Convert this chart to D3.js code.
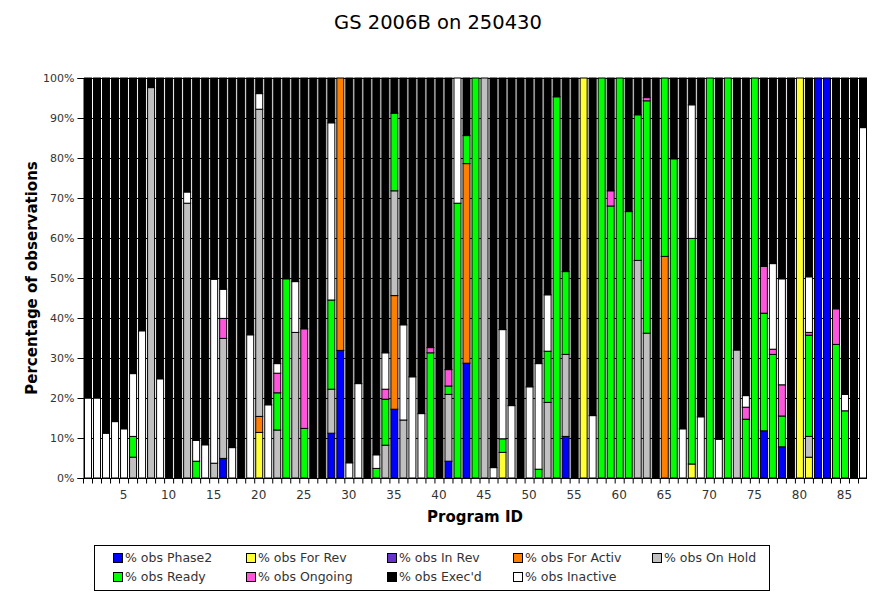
<!DOCTYPE html>
<html>
<head>
<meta charset="utf-8">
<title>GS 2006B on 250430</title>
<style>
  body { margin: 0; background: #fff; }
  text { font-family: "DejaVu Sans", sans-serif; }
</style>
</head>
<body>
<div id="chart"></div>
<script src="https://d3js.org/d3.v7.min.js"></script>
<script>
// program ids 1..87
const programs = d3.range(1, 88);

// percentages per program (index 0 = program 1)
const phase2 = [0,0,0,0,0,0,0,0,0,0, 0,0,0,0,0,4.9,0,0,0,0, 0,0,0,0,0,0,0,11.2,31.9,0,
  0,0,0,0,17.2,0,0,0,0,0, 4.2,0,28.7,0,0,0,0,0,0,0, 0,0,0,10.4,0,0,0,0,0,0,
  0,0,0,0,0,0,0,0,0,0, 0,0,0,0,0,11.8,0,7.8,0,0, 0,100,100,0,0,0,0];
const forRev = [0,0,0,0,0,0,0,0,0,0, 0,0,0,0,0,0,0,0,0,11.4, 0,0,0,0,0,0,0,0,0,0,
  0,0,0,0,0,0,0,0,0,0, 0,0,0,0,0,0,6.4,0,0,0, 0,0,0,0,0,100,0,0,0,0,
  0,0,0,0,0,0,0,3.5,0,0, 0,0,0,0,0,0,0,0,0,100, 5.2,0,0,0,0,0,0];
const inRev = programs.map(() => 0);
const forActiv = [0,0,0,0,0,0,0,0,0,0, 0,0,0,0,0,0,0,0,0,4, 0,0,0,0,0,0,0,0,68.1,0,
  0,0,0,0,28.4,0,0,0,0,0, 0,0,49.9,0,0,0,0,0,0,0, 0,0,0,0,0,0,0,0,0,0,
  0,0,0,0,55.4,0,0,0,0,0, 0,0,0,0,0,0,0,0,0,0, 0,0,0,0,0,0,0];
const onHold = [0,0,0,0,0,5.2,0,97.6,0,0, 0,68.7,0,0,3.7,30,0,0,0,76.8, 0,12,0,36.4,0,0,0,11,0,0,
  0,0,0,8.2,26.2,14.5,0,0,0,0, 16.7,0,0,0,100,0,0,0,0,0, 0,18.9,0,20.5,0,0,0,0,0,0,
  0,54.4,36.2,0,0,0,0,0,0,0, 0,0,32,0,0,0,0,0,0,0, 5.2,0,0,0,0,0,0];
const ready = [0,0,0,0,0,5.2,0,0,0,0, 0,0,4.2,0,0,0,0,0,0,0, 0,9.3,49.8,0,12.4,0,0,22.3,0,0,
  0,0,2.4,11.5,19.4,0,0,0,31.3,0, 2.1,68.7,7,100,0,0,3.4,0,0,0, 2.2,12.8,95.3,20.7,0,0,0,100,68,100,
  66.6,36.4,58.1,0,44.6,79.8,0,56.4,0,100, 0,100,0,14.7,100,29.4,30.9,7.7,0,0, 25.3,0,0,33.4,16.8,0,0];
const ongoing = [0,0,0,0,0,0,0,0,0,0, 0,0,0,0,0,5,0,0,0,0, 0,4.9,0,0,24.9,0,0,0,0,0,
  0,0,0,2.5,0,0,0,0,1.3,0, 4.1,0,0,0,0,0,0,0,0,0, 0,0,0,0,0,0,0,0,3.8,0,
  0,0,0.8,0,0,0,0,0,0,0, 0,0,0,3,0,11.7,1.3,7.8,0,0, 0.7,0,0,8.9,0,0,0];
const inactive = [20,20,11.2,14.1,12.3,15.7,36.8,0,24.8,0, 0,2.8,5.2,8.3,46,7.3,7.6,0,35.8,3.9, 18.3,2.4,0,12.7,0,0,0,44.3,0,3.8,
  23.6,0,3.4,9.1,0,23.8,25.3,16.1,0,0, 0,31.3,0,0,0,2.6,27.3,18.1,0,22.8, 26.4,14.1,0,0,0,0,15.6,0,0,0,
  0,0,0,0,0,0,12.3,33.4,15.3,0, 9.7,0,0,2.9,0,0,21.4,26.5,0,0, 13.9,0,0,0,4.1,0,87.6];
const execd = [80,80,88.8,85.9,87.7,73.9,63.2,2.4,75.2,100, 100,28.5,90.6,91.7,50.3,52.8,92.4,100,64.2,3.9, 81.7,71.4,50.2,50.9,62.7,100,100,11.2,0,96.2,
  76.4,100,94.2,68.7,8.8,61.7,74.7,83.9,67.4,100, 72.9,0,14.4,0,0,97.4,62.9,81.9,100,77.2, 71.4,54.2,4.7,48.4,100,0,84.4,0,28.2,0,
  33.4,9.2,4.9,100,0,20.2,87.7,6.7,84.7,0, 90.3,0,68,79.4,0,47.1,46.4,50.2,100,0, 49.7,0,0,57.7,79.1,100,12.4];

const seriesNames = ["% obs Phase2", "% obs For Rev", "% obs In Rev", "% obs For Activ", "% obs On Hold",
  "% obs Ready", "% obs Ongoing", "% obs Exec'd", "% obs Inactive"];
const seriesValues = [phase2, forRev, inRev, forActiv, onHold, ready, ongoing, execd, inactive];
const colors = ["#0000ff", "#ffff33", "#6633cc", "#ff8000", "#c0c0c0", "#00ff00", "#ff55dd", "#000000", "#ffffff"];
// inactive is stacked under exec'd
const stackOrder = [0, 1, 2, 3, 4, 5, 6, 8, 7];
const yTicks = d3.range(0, 101, 10);

const width = 876, height = 600;
const margin = { top: 78, right: 9, bottom: 122, left: 83 };

const svg = d3.select('#chart').append('svg')
  .attr('width', width).attr('height', height);

const x = d3.scaleBand().domain(programs).range([margin.left, width - margin.right]).padding(0);
const y = d3.scaleLinear().domain([0, 100]).range([height - margin.bottom, margin.top]);

// grid
svg.append('g').selectAll('line').data(yTicks.slice(1)).join('line')
  .attr('x1', margin.left).attr('x2', width - margin.right)
  .attr('y1', d => y(d) + 0.5).attr('y2', d => y(d) + 0.5)
  .attr('stroke', '#000').attr('stroke-width', 1);

const table = programs.map((p, i) => {
  const row = { id: p };
  stackOrder.forEach(s => { row[s] = seriesValues[s][i]; });
  return row;
});
const stacked = d3.stack().keys(stackOrder)(table);

const bw = x.bandwidth();
svg.append('g').selectAll('g').data(stacked).join('g')
  .attr('fill', d => colors[d.key])
  .selectAll('rect').data(d => d.filter(s => s[1] - s[0] > 0)).join('rect')
  .attr('x', d => x(d.data.id) + 1.5)
  .attr('width', bw - 2)
  .attr('y', d => y(d[1]))
  .attr('height', d => y(d[0]) - y(d[1]))
  .attr('stroke', '#000')
  .attr('stroke-width', 1);

// y axis
const yAxis = d3.axisLeft(y).tickValues(yTicks).tickFormat(d => d + '%').tickSize(6);
const gy = svg.append('g').attr('transform', `translate(${margin.left + 0.5},0)`).call(yAxis);
gy.selectAll('text').attr('font-size', 11).attr('font-family', '"DejaVu Sans", sans-serif').attr('fill', '#333');
gy.selectAll('line, path').attr('stroke', '#000');

// x axis
const gx = svg.append('g').attr('transform', `translate(0,${y(0) + 0.5})`);
gx.append('line').attr('x1', margin.left).attr('x2', width - margin.right).attr('stroke', '#000');
gx.selectAll('.tk').data(programs).join('line').attr('class', 'tk')
  .attr('x1', d => x(d) + 0.5).attr('x2', d => x(d) + 0.5)
  .attr('y1', 0).attr('y2', 5).attr('stroke', '#000');
gx.selectAll('.lb').data(programs.filter(d => d % 5 === 0)).join('text').attr('class', 'lb')
  .attr('x', d => x(d) + bw / 2).attr('y', 20)
  .attr('text-anchor', 'middle').attr('font-size', 12).attr('fill', '#333')
  .text(d => d);

// titles
svg.append('text').attr('x', width / 2).attr('y', 29).attr('text-anchor', 'middle')
  .attr('font-size', 19.5).text('GS 2006B on 250430');
svg.append('text').attr('x', (margin.left + width - margin.right) / 2).attr('y', 522)
  .attr('text-anchor', 'middle').attr('font-size', 15).attr('font-weight', 'bold')
  .text('Program ID');
svg.append('text').attr('transform', `translate(37,${(y(0) + y(100)) / 2}) rotate(-90)`)
  .attr('text-anchor', 'middle').attr('font-size', 15).attr('font-weight', 'bold')
  .text('Percentage of observations');

// legend
const legend = svg.append('g');
legend.append('rect').attr('x', 94.5).attr('y', 545.5).attr('width', 675).attr('height', 45)
  .attr('fill', '#fff').attr('stroke', '#000');
const colX = [113, 246, 387, 513, 652];
const items = legend.selectAll('g').data(seriesNames).join('g')
  .attr('transform', (d, i) => `translate(${colX[i % 5]},${i < 5 ? 553 : 572})`);
items.append('rect').attr('x', 0.5).attr('y', 0.5).attr('width', 9).attr('height', 9)
  .attr('fill', (d, i) => colors[i]).attr('stroke', '#000');
items.append('text').attr('x', 12).attr('y', 5).attr('dy', '0.35em')
  .attr('font-size', 12.5).attr('fill', '#333').text(d => d);
</script>
</body>
</html>
